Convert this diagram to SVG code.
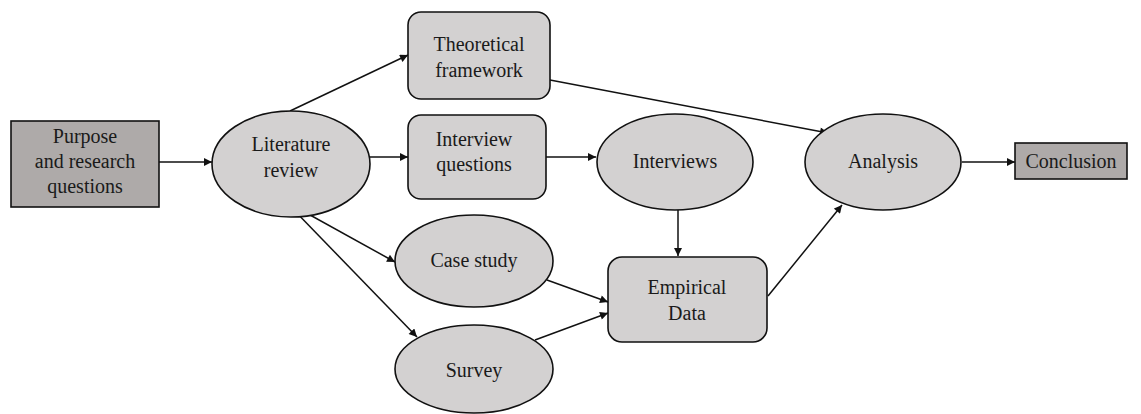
<svg xmlns="http://www.w3.org/2000/svg" width="1141" height="414" viewBox="0 0 1141 414">
  <style>
    .lbl { font-family: "Liberation Serif", "DejaVu Serif", serif; font-size: 20px; fill: #1a1a1a; text-anchor: middle; }
    .oval { fill: #d3d1d1; stroke: #111; stroke-width: 1.6; }
    .soft { fill: #d3d1d1; stroke: #111; stroke-width: 1.6; }
    .dark { fill: #aeaaa9; stroke: #111; stroke-width: 1.6; }
    .edge { stroke: #111; stroke-width: 1.5; fill: none; marker-end: url(#arrow); }
  </style>
  <defs>
    <marker id="arrow" viewBox="0 0 10 10" refX="10" refY="5" markerWidth="9" markerHeight="8" markerUnits="userSpaceOnUse" orient="auto">
      <path d="M0,0 L10,5 L0,10 z" fill="#111"/>
    </marker>
  </defs>
  <rect width="1141" height="414" fill="#ffffff"/>

  <g id="connectors">
    <line class="edge" x1="159" y1="162" x2="212" y2="162"/>
    <line class="edge" x1="290" y1="111" x2="408" y2="55"/>
    <line class="edge" x1="370" y1="157" x2="408" y2="157"/>
    <line class="edge" x1="546" y1="157" x2="596" y2="157"/>
    <line class="edge" x1="550" y1="80" x2="828" y2="133"/>
    <line class="edge" x1="292" y1="205" x2="395" y2="262"/>
    <line class="edge" x1="290" y1="206" x2="417" y2="337"/>
    <line class="edge" x1="678" y1="210" x2="678" y2="256"/>
    <line class="edge" x1="547" y1="280" x2="608" y2="302"/>
    <line class="edge" x1="535" y1="340" x2="608" y2="313"/>
    <line class="edge" x1="768" y1="296" x2="842" y2="205"/>
    <line class="edge" x1="962" y1="162" x2="1015" y2="162"/>
  </g>

  <g id="purpose">
    <rect class="dark" x="11" y="121" width="148" height="86"/>
    <text class="lbl" x="85" y="143">Purpose</text>
    <text class="lbl" x="85" y="168">and research</text>
    <text class="lbl" x="85" y="193">questions</text>
  </g>

  <g id="literature-review">
    <ellipse class="oval" cx="291" cy="164" rx="79" ry="53"/>
    <text class="lbl" x="291" y="151">Literature</text>
    <text class="lbl" x="291" y="177">review</text>
  </g>

  <g id="theoretical-framework">
    <rect class="soft" x="408" y="12" width="142" height="87" rx="13"/>
    <text class="lbl" x="479" y="51">Theoretical</text>
    <text class="lbl" x="479" y="77">framework</text>
  </g>

  <g id="interview-questions">
    <rect class="soft" x="408" y="115" width="138" height="84" rx="13"/>
    <text class="lbl" x="474" y="146">Interview</text>
    <text class="lbl" x="474" y="171">questions</text>
  </g>

  <g id="interviews">
    <ellipse class="oval" cx="675" cy="162" rx="78" ry="48"/>
    <text class="lbl" x="675" y="168">Interviews</text>
  </g>

  <g id="case-study">
    <ellipse class="oval" cx="474" cy="261" rx="79" ry="46"/>
    <text class="lbl" x="474" y="267">Case study</text>
  </g>

  <g id="survey">
    <ellipse class="oval" cx="474" cy="369" rx="79" ry="44"/>
    <text class="lbl" x="474" y="377">Survey</text>
  </g>

  <g id="empirical-data">
    <rect class="soft" x="608" y="257" width="159" height="85" rx="14"/>
    <text class="lbl" x="687" y="294">Empirical</text>
    <text class="lbl" x="687" y="320">Data</text>
  </g>

  <g id="analysis">
    <ellipse class="oval" cx="883" cy="162" rx="78" ry="48"/>
    <text class="lbl" x="883" y="168">Analysis</text>
  </g>

  <g id="conclusion">
    <rect class="dark" x="1015" y="143" width="112" height="36"/>
    <text class="lbl" x="1071" y="168">Conclusion</text>
  </g>
</svg>
